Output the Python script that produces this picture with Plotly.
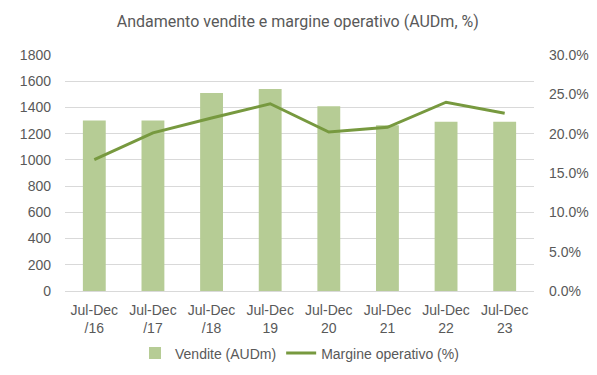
import plotly.graph_objects as go

categories = ["Jul-Dec<br>/16", "Jul-Dec<br>/17", "Jul-Dec<br>/18", "Jul-Dec<br>19",
              "Jul-Dec<br>20", "Jul-Dec<br>21", "Jul-Dec<br>22", "Jul-Dec<br>23"]
vendite = [1300, 1300, 1510, 1540, 1410, 1265, 1290, 1290]
margine = [0.167, 0.201, 0.220, 0.238, 0.202, 0.208, 0.240, 0.226]

bar_color = "#B6CC95"
line_color = "#77993F"
text_color = "#595959"
grid_color = "#D9D9D9"

fig = go.Figure()
fig.add_trace(go.Bar(x=categories, y=vendite, name="Vendite (AUDm)",
                     marker=dict(color=bar_color, line=dict(width=0)), yaxis="y"))
fig.add_trace(go.Scatter(x=categories, y=margine, name="Margine operativo (%)",
                         mode="lines", line=dict(color=line_color, width=3), yaxis="y2"))

fig.update_layout(
    width=589, height=367,
    margin=dict(l=57, r=63, t=47, b=84, autoexpand=False),
    paper_bgcolor="white", plot_bgcolor="white",
    font=dict(family="Liberation Sans, Arial, sans-serif", size=14, color=text_color),
    title=dict(text="Andamento vendite e margine operativo (AUDm, %)",
               x=0.492, xanchor="center", y=0.963, yanchor="middle",
               font=dict(size=16, color=text_color, family="Roboto, Liberation Sans, sans-serif")),
    bargap=0.61,
    xaxis=dict(showgrid=False, showline=True, linecolor=grid_color, linewidth=1,
               ticks="", tickfont=dict(size=14), automargin=False,
               ticklabelstandoff=6),
    yaxis=dict(range=[0, 1800], dtick=200, showgrid=True, gridcolor=grid_color,
               zeroline=False, showline=False, ticks="", ticklabelstandoff=13,
               automargin=False),
    yaxis2=dict(range=[0, 0.30], dtick=0.05, tickformat=".1%", overlaying="y",
                side="right", showgrid=False, zeroline=False, showline=False,
                ticks="", ticklabelstandoff=14, automargin=False),
    legend=dict(orientation="h", x=0.5, xanchor="center", y=-0.197, yanchor="top",
                font=dict(size=14, color=text_color)),
    showlegend=True,
)

fig.write_html("out.html")
